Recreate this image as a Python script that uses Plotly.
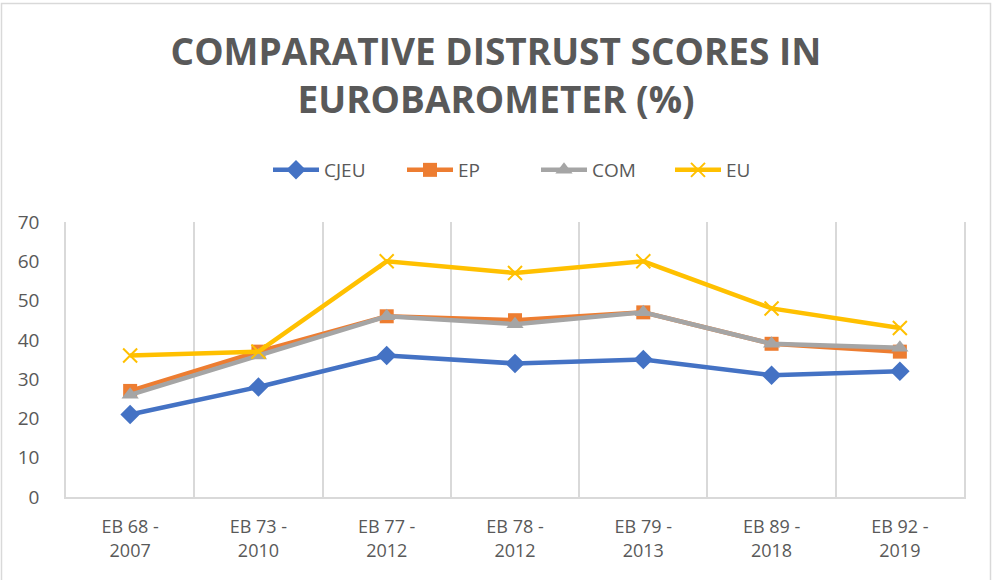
import plotly.graph_objects as go

categories = ["EB 68 - 2007", "EB 73 - 2010", "EB 77 - 2012", "EB 78 - 2012",
              "EB 79 - 2013", "EB 89 - 2018", "EB 92 - 2019"]
cjeu = [21, 28, 36, 34, 35, 31, 32]
ep = [27, 37, 46, 45, 47, 39, 37]
com = [26, 36, 46, 44, 47, 39, 38]
eu = [36, 37, 60, 57, 60, 48, 43]
y_ticks = [0, 10, 20, 30, 40, 50, 60, 70]

tick_labels = [c.replace(" - ", " -<br>") for c in categories]

TXT = "#595959"
FONT = "Open Sans"

series = [
    ("CJEU", cjeu, "#4472C4", dict(symbol="diamond", size=15)),
    ("EP", ep, "#ED7D31", dict(symbol="square", size=14)),
    ("COM", com, "#A5A5A5", dict(symbol="triangle-up", size=15)),
    ("EU", eu, "#FFC000", dict(symbol="x-thin", size=14, line=dict(width=2, color="#FFC000"))),
]

fig = go.Figure()
for name, vals, color, marker in series:
    m = dict(color=color, **marker)
    fig.add_trace(go.Scatter(
        x=categories, y=vals, name=name, mode="lines+markers",
        line=dict(color=color, width=4.5), marker=m,
    ))

W, H = 992, 580
L, R, T, B = 66, 28, 222, 83
pw, ph = W - L - R, H - T - B

def px(x):
    return (x - L) / pw

def py(y):
    return (H - B - y) / ph

fig.update_layout(
    width=W, height=H,
    margin=dict(l=L, r=R, t=T, b=B),
    paper_bgcolor="white", plot_bgcolor="white",
    font=dict(family=FONT, color=TXT),
    title=dict(
        text="COMPARATIVE DISTRUST SCORES IN<br>EUROBAROMETER (%)",
        x=0.5, xref="container", xanchor="center",
        y=1 - 65 / H, yref="container", yanchor="top",
        font=dict(family=FONT, size=37, color=TXT, weight="bold"),
    ),
    legend=dict(
        orientation="h", x=px(536), xanchor="center",
        y=1 + 52 / ph, yanchor="middle",
        font=dict(size=19, color=TXT), entrywidth=73, itemwidth=46,
        traceorder="normal",
    ),
    xaxis=dict(
        type="category", categoryorder="array", categoryarray=categories,
        range=[-0.5, len(categories) - 0.5],
        tickmode="array", tickvals=categories, ticktext=tick_labels,
        tickson="boundaries", showgrid=True, gridcolor="#D9D9D9", gridwidth=1.5,
        showline=True, linecolor="#D9D9D9", linewidth=1.5,
        ticks="", tickfont=dict(size=18, color=TXT),
        ticklabelstandoff=13, zeroline=False,
    ),
    yaxis=dict(
        range=[0, 70], tickmode="array", tickvals=y_ticks,
        showgrid=False, showline=True, mirror=True, linecolor="#D9D9D9", linewidth=1.5,
        zeroline=False, ticks="",
        tickfont=dict(size=19, color=TXT), ticklabelstandoff=21,
    ),
    shapes=[dict(
        type="rect", xref="paper", yref="paper",
        x0=px(1.5), x1=px(990.5), y0=py(592), y1=py(3.5),
        line=dict(color="#D9D9D9", width=1.5), fillcolor="rgba(0,0,0,0)", layer="below",
    )],
)

fig.write_html("out.html", config={"displayModeBar": False},
               post_script="document.body.style.margin='0';")
